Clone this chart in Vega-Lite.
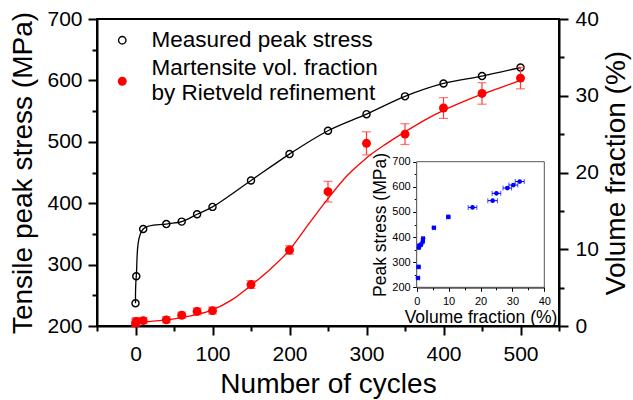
{
  "$schema": "https://vega.github.io/schema/vega-lite/v6.json",
  "width": 462,
  "height": 307,
  "autosize": {"type": "none"},
  "padding": {"left": 97, "top": 19, "right": 74, "bottom": 74},
  "background": "white",
  "config": {
    "font": "Liberation Sans",
    "view": {"stroke": "black", "strokeWidth": 2},
    "axis": {
      "labelFont": "Liberation Sans",
      "titleFont": "Liberation Sans",
      "titleFontWeight": "normal",
      "labelColor": "black",
      "titleColor": "black",
      "domainColor": "black",
      "tickColor": "black",
      "grid": false,
      "labelFlush": false,
      "labelOverlap": false
    },
    "legend": {
      "labelFont": "Liberation Sans",
      "labelColor": "black",
      "labelFontSize": 22.5,
      "labelLimit": 400
    }
  },
  "datasets": {
    "main": [
      {"cycles": 0, "stress": 237, "vol": 0.4, "err": 0.5},
      {"cycles": 1, "stress": 281, "vol": 0.6, "err": 0.5},
      {"cycles": 10, "stress": 358, "vol": 0.7, "err": 0.4},
      {"cycles": 40, "stress": 366, "vol": 0.8, "err": 0.4},
      {"cycles": 60, "stress": 370, "vol": 1.4, "err": 0.4},
      {"cycles": 80, "stress": 382, "vol": 1.9, "err": 0.45},
      {"cycles": 100, "stress": 394, "vol": 2.0, "err": 0.45},
      {"cycles": 150, "stress": 437, "vol": 5.4, "err": 0.5},
      {"cycles": 200, "stress": 480, "vol": 9.9, "err": 0.55},
      {"cycles": 250, "stress": 518, "vol": 17.5, "err": 1.35},
      {"cycles": 300, "stress": 545, "vol": 23.8, "err": 1.5},
      {"cycles": 350, "stress": 574, "vol": 25.0, "err": 1.35},
      {"cycles": 400, "stress": 595, "vol": 28.4, "err": 1.35},
      {"cycles": 450, "stress": 607, "vol": 30.3, "err": 1.4},
      {"cycles": 500, "stress": 621, "vol": 32.3, "err": 1.4}
    ],
    "fit": [
      {"cycles": 0, "vol": 0.45},
      {"cycles": 20, "vol": 0.6},
      {"cycles": 40, "vol": 0.8},
      {"cycles": 60, "vol": 1.1},
      {"cycles": 80, "vol": 1.5},
      {"cycles": 100, "vol": 2.1},
      {"cycles": 125, "vol": 3.4},
      {"cycles": 150, "vol": 5.3},
      {"cycles": 175, "vol": 7.4},
      {"cycles": 200, "vol": 9.9},
      {"cycles": 225, "vol": 13.3},
      {"cycles": 250, "vol": 16.6},
      {"cycles": 275, "vol": 19.6},
      {"cycles": 300, "vol": 21.9},
      {"cycles": 325, "vol": 23.7},
      {"cycles": 350, "vol": 25.3},
      {"cycles": 375, "vol": 26.8},
      {"cycles": 400, "vol": 28.1},
      {"cycles": 425, "vol": 29.2},
      {"cycles": 450, "vol": 30.2},
      {"cycles": 475, "vol": 31.1},
      {"cycles": 500, "vol": 32.0}
    ]
  },
  "layer": [
    {
      "data": {"name": "main"},
      "mark": {"type": "line", "color": "black", "strokeWidth": 1.3, "interpolate": "catmull-rom"},
      "encoding": {
        "x": {
          "field": "cycles", "type": "quantitative",
          "scale": {"domain": [-50, 550], "nice": false, "zero": false},
          "axis": {
            "title": "Number of cycles",
            "values": [-50, 0, 50, 100, 150, 200, 250, 300, 350, 400, 450, 500, 550],
            "labelExpr": "datum.value % 100 === 0 ? datum.label : ''",
            "tickSize": {"condition": {"test": "datum.value % 100 === 0", "value": 9}, "value": 5},
            "tickWidth": 2,
            "domainWidth": 2,
            "labelFontSize": 21,
            "titleFontSize": 28,
            "labelPadding": 8,
            "titlePadding": 6
          }
        },
        "y": {
          "field": "stress", "type": "quantitative",
          "scale": {"domain": [200, 700], "nice": false, "zero": false},
          "axis": {
            "title": "Tensile peak stress (MPa)",
            "values": [200, 250, 300, 350, 400, 450, 500, 550, 600, 650, 700],
            "labelExpr": "datum.value % 100 === 0 ? datum.label : ''",
            "tickSize": {"condition": {"test": "datum.value % 100 === 0", "value": 9}, "value": 5},
            "tickWidth": 2,
            "domainWidth": 2,
            "labelFontSize": 21,
            "titleFontSize": 28,
            "labelPadding": 6,
            "titlePadding": 9
          }
        },
        "order": {"field": "stress", "type": "quantitative"}
      }
    },
    {
      "data": {"name": "main"},
      "mark": {"type": "point", "shape": "circle", "filled": false, "strokeWidth": 1.4, "size": 50, "opacity": 1},
      "encoding": {
        "x": {"field": "cycles", "type": "quantitative", "scale": {"domain": [-50, 550], "nice": false, "zero": false}, "axis": null},
        "y": {"field": "stress", "type": "quantitative", "scale": {"domain": [200, 700], "nice": false, "zero": false}, "axis": null},
        "stroke": {
          "datum": "Measured peak stress", "type": "nominal",
          "scale": {"range": ["black"]},
          "legend": {
            "title": null, "orient": "none", "legendX": 14, "legendY": 10,
            "symbolType": "circle", "symbolSize": 55, "symbolStrokeWidth": 1.4,
            "labelOffset": 18, "padding": 0
          }
        }
      }
    },
    {
      "data": {"name": "main"},
      "mark": {"type": "errorbar", "color": "#ff3b3b", "thickness": 1.2, "ticks": {"size": 9}},
      "encoding": {
        "x": {"field": "cycles", "type": "quantitative", "scale": {"domain": [-50, 550], "nice": false, "zero": false}, "axis": null},
        "y": {"field": "vol", "type": "quantitative", "scale": {"domain": [0, 40], "nice": false, "zero": false}, "axis": null},
        "yError": {"field": "err"}
      }
    },
    {
      "data": {"name": "fit"},
      "mark": {"type": "line", "color": "red", "strokeWidth": 1.3, "interpolate": "monotone"},
      "encoding": {
        "x": {"field": "cycles", "type": "quantitative", "scale": {"domain": [-50, 550], "nice": false, "zero": false}, "axis": null},
        "y": {"field": "vol", "type": "quantitative", "scale": {"domain": [0, 40], "nice": false, "zero": false}, "axis": null}
      }
    },
    {
      "data": {"name": "main"},
      "mark": {"type": "point", "shape": "circle", "filled": true, "size": 80, "opacity": 1},
      "encoding": {
        "x": {"field": "cycles", "type": "quantitative", "scale": {"domain": [-50, 550], "nice": false, "zero": false}, "axis": null},
        "y": {
          "field": "vol", "type": "quantitative",
          "scale": {"domain": [0, 40], "nice": false, "zero": false},
          "axis": {
            "orient": "right",
            "title": "Volume fraction (%)",
            "values": [0, 5, 10, 15, 20, 25, 30, 35, 40],
            "labelExpr": "datum.value % 10 === 0 ? datum.label : ''",
            "tickSize": {"condition": {"test": "datum.value % 10 === 0", "value": 9}, "value": 5},
            "tickWidth": 2,
            "domainWidth": 2,
            "labelFontSize": 21,
            "titleFontSize": 28,
            "titleAngle": 270,
            "titleBaseline": "top",
            "labelPadding": 7,
            "titlePadding": 4
          }
        },
        "fill": {
          "datum": "Martensite vol. fraction by Rietveld refinement", "type": "nominal",
          "scale": {"range": ["red"]},
          "legend": {
            "title": null, "orient": "none", "legendX": 14, "legendY": 51,
            "symbolType": "circle", "symbolSize": 80,
            "labelOffset": 18, "padding": 0,
            "labelBaseline": "line-bottom",
            "labelExpr": "['Martensite vol. fraction', 'by Rietveld refinement']"
          }
        }
      }
    },
    {
      "data": {"values": [{}]},
      "mark": {"type": "rect", "fill": "white", "stroke": "#555555", "strokeWidth": 1},
      "encoding": {
        "x": {"datum": 0, "type": "quantitative", "scale": {"domain": [0, 40], "range": [319.7, 447.3], "nice": false, "zero": false}, "axis": null},
        "x2": {"datum": 40},
        "y": {"datum": 200, "type": "quantitative", "scale": {"domain": [200, 700], "range": [268.3, 142.7], "nice": false, "zero": false}, "axis": null},
        "y2": {"datum": 700}
      }
    },
    {
      "data": {"name": "main"},
      "mark": {"type": "errorbar", "color": "blue", "thickness": 1, "ticks": {"size": 5}},
      "encoding": {
        "x": {"field": "vol", "type": "quantitative", "scale": {"domain": [0, 40], "range": [319.7, 447.3], "nice": false, "zero": false}, "axis": null},
        "xError": {"field": "err"},
        "y": {"field": "stress", "type": "quantitative", "scale": {"domain": [200, 700], "range": [268.3, 142.7], "nice": false, "zero": false}, "axis": null}
      }
    },
    {
      "data": {"name": "main"},
      "mark": {"type": "point", "shape": "circle", "filled": true, "color": "blue", "size": 22, "opacity": 1},
      "encoding": {
        "x": {
          "field": "vol", "type": "quantitative",
          "scale": {"domain": [0, 40], "range": [319.7, 447.3], "nice": false, "zero": false},
          "axis": {
            "orient": "bottom", "offset": -38.7,
            "title": "Volume fraction (%)",
            "values": [0, 5, 10, 15, 20, 25, 30, 35, 40],
            "labelExpr": "datum.value % 10 === 0 ? datum.label : ''",
            "tickSize": {"condition": {"test": "datum.value % 10 === 0", "value": 4}, "value": 2.5},
            "tickWidth": 1, "domainWidth": 1.2,
            "labelFontSize": 11, "titleFontSize": 17.5,
            "labelPadding": 4, "titlePadding": 2
          }
        },
        "y": {
          "field": "stress", "type": "quantitative",
          "scale": {"domain": [200, 700], "range": [268.3, 142.7], "nice": false, "zero": false},
          "axis": {
            "orient": "left", "offset": -319.7,
            "title": "Peak stress (MPa)",
            "values": [200, 250, 300, 350, 400, 450, 500, 550, 600, 650, 700],
            "labelExpr": "datum.value % 100 === 0 ? datum.label : ''",
            "tickSize": {"condition": {"test": "datum.value % 100 === 0", "value": 4}, "value": 2.5},
            "tickWidth": 1, "domainWidth": 1.2,
            "labelFontSize": 11, "titleFontSize": 17.5,
            "labelPadding": 2.5, "titlePadding": 2
          }
        }
      }
    }
  ],
  "resolve": {
    "scale": {"x": "independent", "y": "independent"},
    "axis": {"x": "independent", "y": "independent"}
  }
}
